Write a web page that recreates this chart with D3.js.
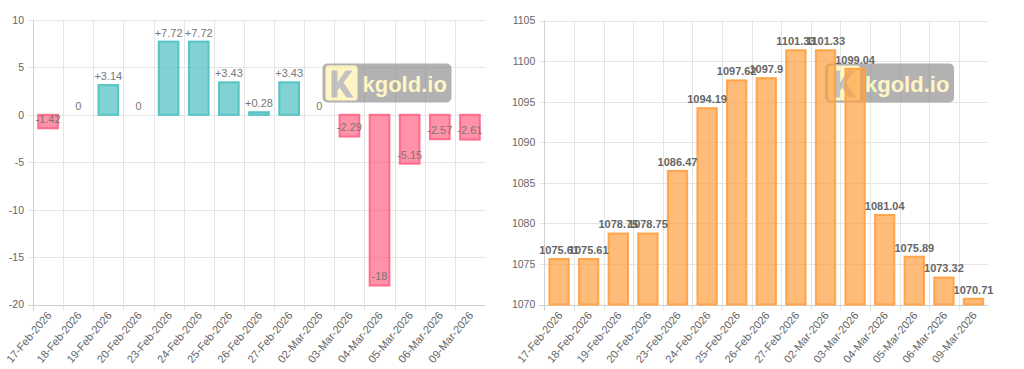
<!DOCTYPE html>
<html lang="en">
<head>
	<meta charset="UTF-8">
	<title>kgold</title>
	<style>
		body {
			margin: 0;
			background: #fff;
			font-family: "Liberation Sans", Arial, sans-serif;
		}
		.tick text {
			fill: #666;
			font-size: 10.5px;
		}
		.xlab .tick text {
			font-size: 11px;
		}
		.grid line {
			stroke: #e5e5e5;
			stroke-width: 1;
		}
	</style>
</head>
<body>
	<svg id="chart"></svg>
<script src="https://cdnjs.cloudflare.com/ajax/libs/d3/7.8.5/d3.min.js"></script>
<script>
	const width = 1024,
		height = 369;

	const dates = ['17-Feb-2026', '18-Feb-2026', '19-Feb-2026', '20-Feb-2026', '23-Feb-2026',
		'24-Feb-2026', '25-Feb-2026', '26-Feb-2026', '27-Feb-2026', '02-Mar-2026',
		'03-Mar-2026', '04-Mar-2026', '05-Mar-2026', '06-Mar-2026', '09-Mar-2026'];
	const changes = [-1.42, 0, 3.14, 0, 7.72, 7.72, 3.43, 0.28, 3.43, 0, -2.29, -18, -5.15, -2.57, -2.61];
	const prices = [1075.61, 1075.61, 1078.75, 1078.75, 1086.47, 1094.19, 1097.62, 1097.9,
		1101.33, 1101.33, 1099.04, 1081.04, 1075.89, 1073.32, 1070.71];
	const changeTicks = [-20, -15, -10, -5, 0, 5, 10];
	const priceTicks = [1070, 1075, 1080, 1085, 1090, 1095, 1100, 1105];

	const svg = d3.select('#chart')
		.attr('width', width)
		.attr('height', height);

	function drawWatermark(g, x, y) {
		const w = g.append('g').attr('transform', `translate(${x},${y})`).attr('opacity', 0.6);
		w.append('rect')
			.attr('width', 129).attr('height', 39).attr('rx', 5)
			.attr('fill', '#808080');
		w.append('rect')
			.attr('x', 3).attr('y', 2).attr('width', 32).attr('height', 35).attr('rx', 3)
			.attr('fill', '#fff0a0');
		// the K of the logo
		w.append('path')
			.attr('d', 'M9,7 h6 v12 l8,-12 h7 l-9,12 l10,15 h-7 l-7,-10 l-2,3 v7 h-6 z')
			.attr('fill', '#9a9a9a');
		w.append('text')
			.attr('x', 40).attr('y', 28)
			.attr('font-size', '22px')
			.attr('font-weight', 'bold')
			.attr('fill', '#fff0a0')
			.text('kgold.io');
	}

	function drawPanel(opt) {
		const g = svg.append('g');
		const x = d3.scaleBand().domain(dates).range([opt.x0, opt.x1]).padding(0);
		const y = d3.scaleLinear().domain(opt.domain).range([opt.y1, opt.y0]);
		const bw = x.bandwidth();

		// grid
		const grid = g.append('g').attr('class', 'grid');
		grid.selectAll('.h')
			.data(opt.ticks)
			.join('line')
			.attr('x1', opt.x0 - 5).attr('x2', opt.x1)
			.attr('y1', d => Math.round(y(d)) + 0.5).attr('y2', d => Math.round(y(d)) + 0.5);
		grid.selectAll('.v')
			.data(dates)
			.join('line')
			.attr('x1', d => Math.round(x(d)) + 0.5).attr('x2', d => Math.round(x(d)) + 0.5)
			.attr('y1', opt.y0).attr('y2', opt.y1 + 6);
		grid.append('line')
			.attr('x1', Math.round(opt.x0) + 0.5).attr('x2', Math.round(opt.x0) + 0.5)
			.attr('y1', opt.y0).attr('y2', opt.y1 + 6)
			.style('stroke', '#d0d0d0');
		grid.append('line')
			.attr('x1', opt.x0 - 5).attr('x2', opt.x1)
			.attr('y1', Math.round(opt.y1) + 0.5).attr('y2', Math.round(opt.y1) + 0.5)
			.style('stroke', '#d0d0d0');

		drawWatermark(g, opt.wx, opt.wy);

		// y axis labels
		const yAxis = g.append('g')
			.attr('transform', `translate(${opt.x0},0)`)
			.call(d3.axisLeft(y).tickValues(opt.ticks).tickFormat(d => d).tickSize(0).tickPadding(9));
		yAxis.select('.domain').remove();

		// x axis labels
		const xAxis = g.append('g')
			.attr('class', 'xlab')
			.attr('transform', `translate(0,${opt.y1})`)
			.call(d3.axisBottom(x).tickSize(0).tickPadding(0));
		xAxis.select('.domain').remove();
		xAxis.selectAll('text')
			.attr('text-anchor', 'end')
			.attr('dy', 0)
			.attr('transform', 'translate(4,11) rotate(-50)');

		const base = opt.base;
		g.selectAll('.bar')
			.data(opt.values)
			.join('rect')
			.attr('x', (d, i) => x(dates[i]) + bw * 0.14 + 1)
			.attr('width', bw * 0.72 - 2)
			.attr('y', d => Math.min(y(d), y(base)))
			.attr('height', d => Math.abs(y(d) - y(base)))
			.attr('fill', d => opt.fill(d))
			.attr('stroke', d => opt.stroke(d))
			.attr('stroke-width', 2);

		g.selectAll('.lbl')
			.data(opt.values)
			.join('text')
			.attr('x', (d, i) => x(dates[i]) + bw / 2)
			.attr('y', d => y(d) - 8)
			.attr('dominant-baseline', 'middle')
			.attr('text-anchor', 'middle')
			.attr('font-size', '11px')
			.attr('font-weight', opt.bold ? 'bold' : 'normal')
			.attr('fill', opt.labelColor)
			.text(opt.format);
	}

	drawPanel({
		x0: 33, x1: 485, y0: 20, y1: 304.5,
		domain: [-20, 10], ticks: changeTicks, values: changes, base: 0,
		fill: d => d < 0 ? 'rgba(255,99,132,0.7)' : 'rgba(75,192,192,0.7)',
		stroke: d => d < 0 ? 'rgba(255,99,132,0.9)' : 'rgba(75,192,192,0.9)',
		labelColor: '#777', bold: false,
		format: d => d > 0 ? '+' + d : String(d),
		wx: 322.5, wy: 63.5
	});

	drawPanel({
		x0: 544.3, x1: 988.3, y0: 20.5, y1: 304.5,
		domain: [1070, 1105], ticks: priceTicks, values: prices, base: 1070,
		fill: () => 'rgba(255,159,64,0.7)',
		stroke: () => 'rgba(255,159,64,0.9)',
		labelColor: '#666', bold: true,
		format: d => String(d),
		wx: 825, wy: 63.5
	});
</script>
</body>
</html>
